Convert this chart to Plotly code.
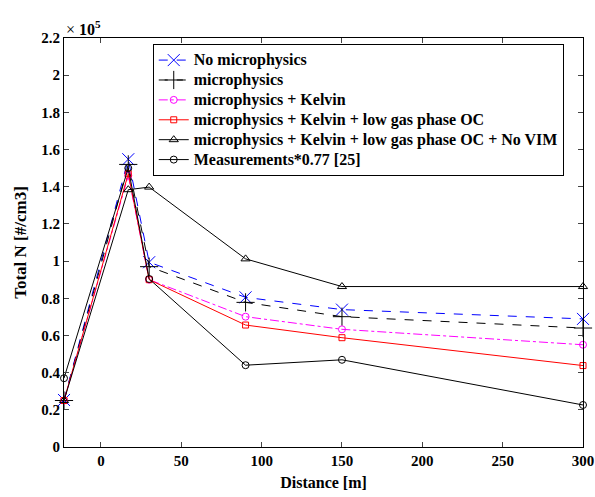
import plotly.graph_objects as go

distance = [-23, 17, 30, 90, 150, 300]
# Total N in units of 1e5 #/cm3
no_micro = [0.253, 1.548, 0.994, 0.805, 0.739, 0.689]
micro = [0.25, 1.52, 0.97, 0.778, 0.701, 0.64]
kelvin = [0.25, 1.46, 0.90, 0.701, 0.633, 0.55]
low_oc = [0.25, 1.47, 0.90, 0.656, 0.588, 0.438]
no_vim = [0.25, 1.384, 1.398, 1.012, 0.863, 0.863]
meas = [0.37, 1.50, 0.904, 0.44, 0.469, 0.226]

yticks = [0, 0.2, 0.4, 0.6, 0.8, 1, 1.2, 1.4, 1.6, 1.8, 2, 2.2]
ytick_text = ["0", "0.2", "0.4", "0.6", "0.8", "1", "1.2", "1.4", "1.6", "1.8", "2", "2.2"]
xticks = [0, 50, 100, 150, 200, 250, 300]

series = [
    ("No microphysics", no_micro, "blue", "dash", "x-thin-open", 12),
    ("microphysics", micro, "black", "dash", "cross-thin-open", 13),
    ("microphysics + Kelvin", kelvin, "magenta", "dashdot", "circle-open", 7),
    ("microphysics + Kelvin + low gas phase OC", low_oc, "red", "solid", "square-open", 6),
    ("microphysics + Kelvin + low gas phase OC + No VIM", no_vim, "black", "solid", "triangle-up-open", 8),
    ("Measurements*0.77 [25]", meas, "black", "solid", "circle-open", 7),
]

fig = go.Figure()
for name, vals, col, dash, sym, sz in series:
    fig.add_trace(go.Scatter(
        x=distance, y=vals,
        name='<span style="font-size:16px"><b>%s</b></span>' % name,
        mode="lines+markers", cliponaxis=False,
        line=dict(color=col, dash=dash, width=1),
        marker=dict(symbol=sym, size=sz, color=col, line=dict(color=col, width=1)),
    ))

fig.update_layout(
    width=595, height=497,
    margin=dict(l=64, r=12, t=38, b=50),
    plot_bgcolor="white", paper_bgcolor="white",
    font=dict(family="Liberation Serif", size=15, color="black"),
    showlegend=True,
    legend=dict(x=0.171, y=0.985, xanchor="left", yanchor="top",
                bgcolor="white", bordercolor="black", borderwidth=1,
                font=dict(family="Liberation Serif", size=13, color="black"),
                tracegroupgap=0, itemwidth=30),
)
fig.update_xaxes(
    range=[-23, 300], tickvals=xticks, ticktext=["<b>%d</b>" % t for t in xticks],
    ticks="inside", ticklen=5, automargin=False,
    showline=True, linecolor="black", linewidth=1, mirror="ticks",
    showgrid=False, zeroline=False,
    tickfont=dict(family="Liberation Serif", size=15, color="black"),
    title=dict(text="<b>Distance [m]</b>", standoff=8,
               font=dict(family="Liberation Serif", size=16, color="black")),
)
fig.update_yaxes(
    range=[0, 2.2], tickvals=yticks, ticktext=["<b>%s</b>" % t for t in ytick_text],
    ticks="inside", ticklen=5, automargin=False,
    showline=True, linecolor="black", linewidth=1, mirror="ticks",
    showgrid=False, zeroline=False,
    tickfont=dict(family="Liberation Serif", size=15, color="black"),
    title=dict(text="<b>Total N [#/cm3]</b>", standoff=10,
               font=dict(family="Liberation Serif", size=17, color="black")),
)
fig.add_annotation(
    x=0, y=1, xref="paper", yref="paper", xanchor="left", yanchor="bottom",
    text="× <b>10</b><sup><b>5</b></sup>", showarrow=False,
    font=dict(family="Liberation Serif", size=16, color="black"), yshift=-2,
)
fig.write_html("out.html", config={"displayModeBar": False},
               post_script="document.body.style.margin='0px';")
